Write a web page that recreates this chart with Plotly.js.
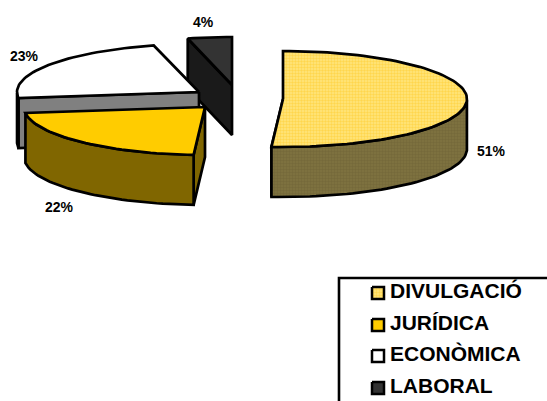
<!DOCTYPE html>
<html><head><meta charset="utf-8">
<script src="https://cdn.plot.ly/plotly-3.0.1.min.js"></script>
<style>html,body{margin:0;padding:0;background:#fff;overflow:hidden}</style>
</head><body><div id="chart" style="width:547px;height:401px"></div>
<script>
const categories = ['DIVULGACIÓ','JURÍDICA','ECONÒMICA','LABORAL'];
const values = [51, 22, 23, 4];
const topColors = ['#FFFFCC','#FFCC00','#FFFFFF','#333333'];
const wallColors = ['#807340','#806600','#808080','#1A1A1A'];
const apexX = [283, 205, 199, 232];
const apexY = [99, 107, 92, 85];
const radiusX = [184, 181, 182, 178];
const labelX = [491, 59, 24, 203];
const labelY = [152, 208, 57, 23];
const legendY = [293, 325, 356, 388];

const RY = 48, DEPTH = 50, DEG = Math.PI / 180;
const total = values.reduce((a, b) => a + b, 0);
const traces = [];

function poly(xs, ys, color, pattern, lw) {
  const t = {type:'scatter', mode:'lines', x:xs.concat(xs[0]), y:ys.concat(ys[0]),
    fill:'toself', fillcolor:color, hoverinfo:'skip', showlegend:false,
    line:{color:'#000', width:lw === undefined ? 2.7 : lw, shape:'linear'}};
  if (pattern) t.fillpattern = pattern;
  traces.push(t);
}
const dots = (bg, fg) => ({shape:'.', bgcolor:bg, fgcolor:fg, size:3, solidity:0.5, fillmode:'replace'});

function slice(i, a0, a1) {
  const cx = apexX[i], cy = apexY[i], RX = radiusX[i];
  const ax = [], ay = [];
  const steps = Math.max(6, Math.ceil((a1 - a0) / 2));
  for (let k = 0; k <= steps; k++) {
    const a = (a0 + (a1 - a0) * k / steps) * DEG;
    ax.push(cx + RX * Math.sin(a));
    ay.push(cy - RY * Math.cos(a));
  }
  const topPat = i === 0 ? dots('#FFE680', '#FFD64D') : null;
  const wallPat = i === 0 ? dots('#807340', '#75693A') : null;
  const wall = wallColors[i];
  const edge = (ex, ey) => poly([cx, ex, ex, cx], [cy, ey, ey + DEPTH, cy + DEPTH], wall, wallPat);
  if (i === 0) edge(ax[ax.length - 1], ay[ay.length - 1]);
  else edge(ax[0], ay[0]);
  const rx = [], ry = [];
  for (let k = 0; k <= steps; k++) {
    const a = a0 + (a1 - a0) * k / steps;
    if (a >= 90 && a <= 270) { rx.push(ax[k]); ry.push(ay[k]); }
  }
  if (rx.length > 1) {
    poly(rx.concat(rx.slice().reverse()), ry.concat(ry.slice().reverse().map(v => v + DEPTH)), wall, wallPat);
  }
  poly([cx].concat(ax), [cy].concat(ay), i === 0 ? '#FFE680' : topColors[i], topPat);
}

const starts = [];
let acc = 0;
values.forEach(v => { starts.push(acc); acc += v / total * 360; });
[3, 2, 1, 0].forEach(i => slice(i, starts[i], starts[i] + values[i] / total * 360));

traces.push({type:'scatter', mode:'text', x:labelX, y:labelY,
  text:values.map(v => '<b>' + v + '%</b>'), textposition:'middle center', hoverinfo:'skip', showlegend:false,
  textfont:{family:'Liberation Sans', size:14, color:'#000'}});

categories.forEach((c, i) => {
  const y = legendY[i], s = 6;
  poly([372, 372 + 2*s, 372 + 2*s, 372], [y - s, y - s, y + s, y + s],
    i === 0 ? '#FFE680' : topColors[i], i === 0 ? dots('#FFE680', '#FFD64D') : null, 2.5);
});
traces.push({type:'scatter', mode:'text', x:legendY.map(() => 390), y:legendY,
  text:categories.map(c => '<b>' + c + '</b>'), textposition:'middle right', hoverinfo:'skip', showlegend:false,
  textfont:{family:'Liberation Sans', size:21, color:'#000'}});

const layout = {
  width:547, height:401, margin:{l:0, r:0, t:0, b:0},
  paper_bgcolor:'#fff', plot_bgcolor:'#fff', showlegend:false,
  xaxis:{range:[0, 547], visible:false, fixedrange:true},
  yaxis:{range:[401, 0], visible:false, fixedrange:true},
  shapes:[{type:'rect', xref:'x', yref:'y', x0:339, y0:278, x1:570, y1:430,
    line:{color:'#000', width:2.6}, fillcolor:'rgba(0,0,0,0)'}]
};
Plotly.newPlot('chart', traces, layout, {displayModeBar:false, staticPlot:true});
</script></body></html>
